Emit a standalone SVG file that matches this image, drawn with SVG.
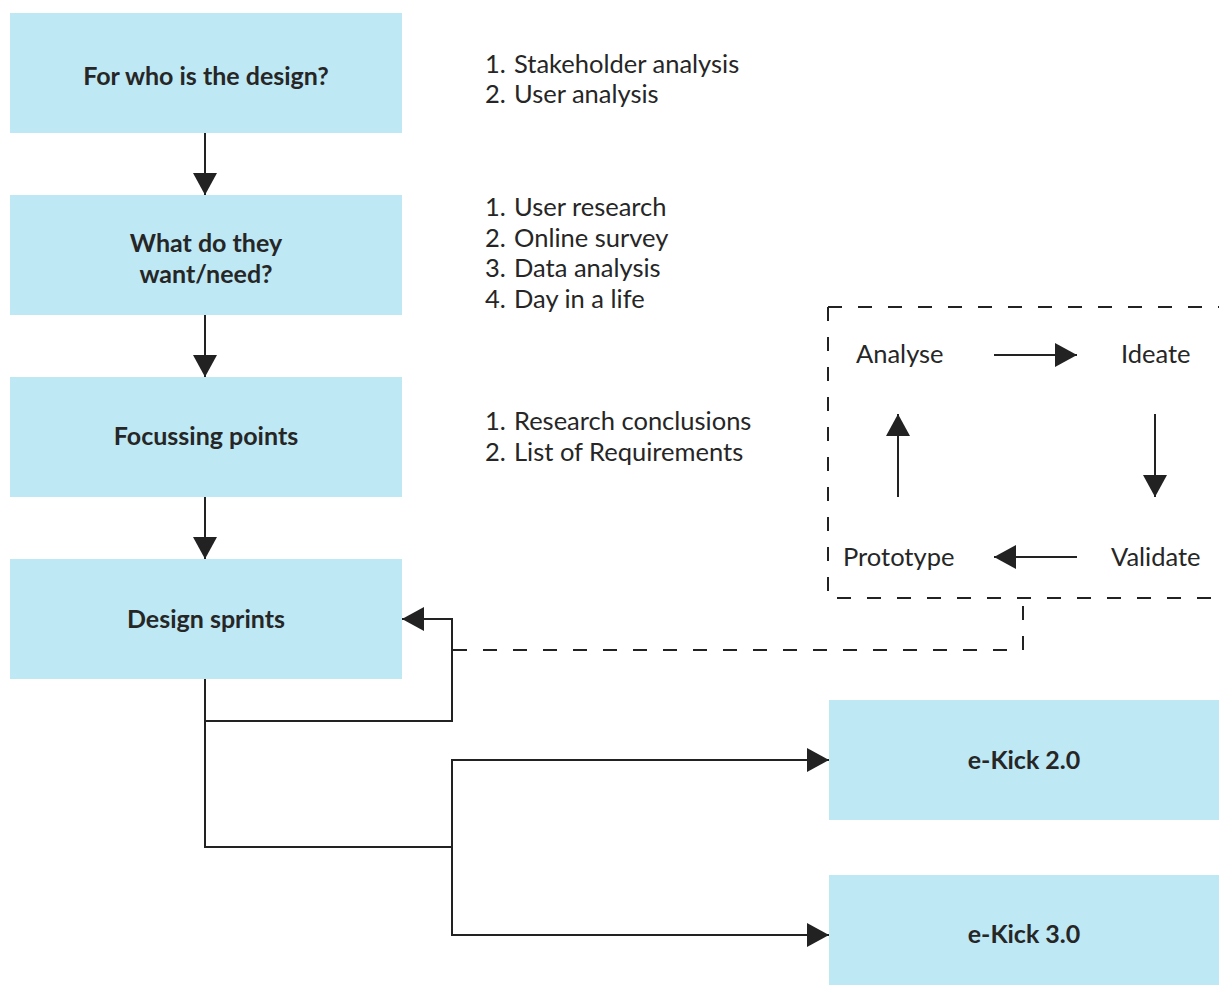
<svg xmlns="http://www.w3.org/2000/svg" width="1219" height="985" viewBox="0 0 1219 985">
<style>
.box{fill:#BDE8F4}
.lbl{font-family:Lato,"Liberation Sans",sans-serif;font-weight:bold;font-size:25px;fill:#262626;text-anchor:middle}
.txt{font-family:Lato,"Liberation Sans",sans-serif;font-size:25.5px;fill:#262626}
.ln{fill:none;stroke:#222;stroke-width:2}
.dash{fill:none;stroke:#222;stroke-width:2;stroke-dasharray:14 16}
</style>
<defs>
<marker id="ah" viewBox="0 0 22 24" refX="22" refY="12" markerWidth="22" markerHeight="24" markerUnits="userSpaceOnUse" orient="auto">
<path d="M0,0 L22,12 L0,24 z" fill="#222"/>
</marker>
</defs>
<g id="n1"><rect class="box" x="10" y="13" width="392" height="120"/><text class="lbl" x="206" y="85">For who is the design?</text></g>
<g id="n2"><rect class="box" x="10" y="195" width="392" height="120"/><text class="lbl" x="206" y="252">What do they</text><text class="lbl" x="206" y="283">want/need?</text></g>
<g id="n3"><rect class="box" x="10" y="377" width="392" height="120"/><text class="lbl" x="206" y="445">Focussing points</text></g>
<g id="n4"><rect class="box" x="10" y="559" width="392" height="120"/><text class="lbl" x="206" y="628">Design sprints</text></g>
<g id="n5"><rect class="box" x="829" y="700" width="390" height="120"/><text class="lbl" x="1024" y="769">e-Kick 2.0</text></g>
<g id="n6"><rect class="box" x="829" y="875" width="390" height="110"/><text class="lbl" x="1024" y="943">e-Kick 3.0</text></g>
<g id="lists">
<text class="txt" x="485" y="73">1.</text><text class="txt" x="514" y="73">Stakeholder analysis</text>
<text class="txt" x="485" y="103">2.</text><text class="txt" x="514" y="103">User analysis</text>
<text class="txt" x="485" y="216">1.</text><text class="txt" x="514" y="216">User research</text>
<text class="txt" x="485" y="247">2.</text><text class="txt" x="514" y="247">Online survey</text>
<text class="txt" x="485" y="277">3.</text><text class="txt" x="514" y="277">Data analysis</text>
<text class="txt" x="485" y="308">4.</text><text class="txt" x="514" y="308">Day in a life</text>
<text class="txt" x="485" y="430">1.</text><text class="txt" x="514" y="430">Research conclusions</text>
<text class="txt" x="485" y="461">2.</text><text class="txt" x="514" y="461">List of Requirements</text>
</g>
<g id="cycle">
<path class="dash" d="M828,307 H1219"/>
<path class="dash" d="M828,307 V598 H1219"/>
<text class="txt" x="856" y="363">Analyse</text>
<text class="txt" x="1121" y="363">Ideate</text>
<text class="txt" x="843" y="566">Prototype</text>
<text class="txt" x="1111" y="566">Validate</text>
</g>
<g id="connectors">
<path class="ln" d="M205,133 V195" marker-end="url(#ah)"/>
<path class="ln" d="M205,315 V377" marker-end="url(#ah)"/>
<path class="ln" d="M205,497 V559" marker-end="url(#ah)"/>
<path class="ln" d="M205,679 V721 H452 V619 H402" marker-end="url(#ah)"/>
<path class="ln" d="M205,721 V847 H452"/>
<path class="ln" d="M452,847 V760 H829" marker-end="url(#ah)"/>
<path class="ln" d="M452,847 V935 H829" marker-end="url(#ah)"/>
<path class="dash" d="M453,650 H1023 V598"/>
<path class="ln" d="M994,355 H1077" marker-end="url(#ah)"/>
<path class="ln" d="M1155,414 V497" marker-end="url(#ah)"/>
<path class="ln" d="M1077,557 H994" marker-end="url(#ah)"/>
<path class="ln" d="M898,497 V414" marker-end="url(#ah)"/>
</g>
</svg>
